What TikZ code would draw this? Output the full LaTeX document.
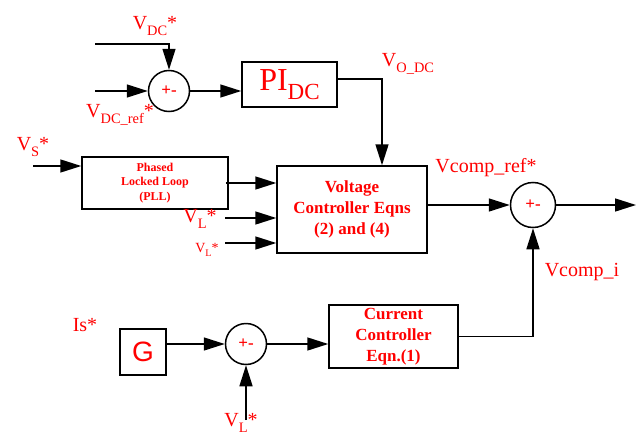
\documentclass[tikz,border=0pt]{standalone}
\usepackage{fontspec}
\setmainfont{Liberation Serif}
\newfontfamily\sansG{Liberation Sans}
\usetikzlibrary{arrows.meta}
\newcommand{\dn}[1]{\raisebox{-0.3em}{\scalebox{0.72}{#1}}}
\begin{document}
\begin{tikzpicture}[x=1pt,y=-1pt,
  wire/.style={line width=1.5pt},
  arr/.style={wire,-{Triangle[length=21pt,width=13pt]}},
  blk/.style={draw,line width=1.5pt,inner sep=0pt,text=red,align=center,font=\bfseries\fontsize{17}{21}\selectfont},
  sumc/.style={draw,circle,line width=1.5pt,inner sep=0pt,text=red,font=\bfseries\fontsize{17}{20}\selectfont},
  lbl/.style={text=red,inner sep=0pt,font=\fontsize{20}{24}\selectfont},
]
\useasboundingbox (0,0) rectangle (637,439);
% blocks
\node[blk,minimum width=95pt,minimum height=45pt,font=\fontsize{32}{36}\selectfont] (pi) at (289.5,84.5) {PI\dn{DC}};
\node[blk,minimum width=150pt,minimum height=87pt] (vc) at (352,209.5) {Voltage\\Controller Eqns\\(2) and (4)};
\node[blk,minimum width=146pt,minimum height=52pt,font=\bfseries\fontsize{12}{14.5}\selectfont] (pll) at (155,183) {Phased\\Locked Loop\\(PLL)};
\node[blk,minimum width=129pt,minimum height=63pt] (cc) at (393.5,336.5) {Current\\Controller\\Eqn.(1)};
\node[blk,minimum width=46pt,minimum height=46pt,font=\sansG\fontsize{28}{30}\selectfont] (G) at (143,352) {G};
% summing junctions
\node[sumc,minimum size=41pt] (s1) at (169,91) {+-};
\node[sumc,minimum size=45pt] (s2) at (533,205) {+-};
\node[sumc,minimum size=41pt] (s3) at (246,344) {+-};
% free ends
\coordinate (dcA) at (95,44);
\coordinate (dcB) at (95,91);
\coordinate (vsIn) at (33,166);
\coordinate (vl1) at (225,218);
\coordinate (vl2) at (225,243);
\coordinate (vlB) at (246,420);
\coordinate (out) at (636,205);
% connectors
\draw[arr] (dcA) -| (s1.north);
\draw[arr] (dcB) -- (s1.west);
\draw[arr] (s1.east) -- (pi.west |- s1.east);
\draw[arr] (pi.east |- 0,79) -| ([xshift=30pt]vc.north);
\draw[arr] (vsIn) -- (pll.west |- vsIn);
\draw[arr] ([xshift=-3pt]pll.east) -- (vc.west |- pll.east);
\draw[arr] (vl1) -- (vc.west |- vl1);
\draw[arr] (vl2) -- (vc.west |- vl2);
\draw[arr] (vc.east |- s2.west) -- (s2.west);
\draw[arr] (s2.east) -- (out);
\draw[arr] (cc.east) -| (s2.south);
\draw[arr] (G.east |- s3.west) -- (s3.west);
\draw[arr] (s3.east) -- (cc.west |- s3.east);
\draw[arr] (vlB) -- (s3.south);
% labels
\node[lbl] (lDC) at (155,26) {V\dn{DC}*};
\node[lbl] (lDCref) at (120,115) {V\dn{DC\_ref}*};
\node[lbl] (lODC) at (408,64) {V\dn{O\_DC}};
\node[lbl] (lVS) at (33,147) {V\dn{S}*};
\node[lbl] (lVcr) at (486,168) {Vcomp\_ref*};
\node[lbl] (lVL1) at (200,219) {V\dn{L}*};
\node[lbl,font=\fontsize{14}{16}\selectfont] (lVL2) at (207,250) {V\dn{L}*};
\node[lbl] (lVci) at (582,272) {Vcomp\_i};
\node[lbl] (lIs) at (85,325) {Is*};
\node[lbl] (lVLB) at (241,423) {V\dn{L}*};
\end{tikzpicture}
\end{document}
